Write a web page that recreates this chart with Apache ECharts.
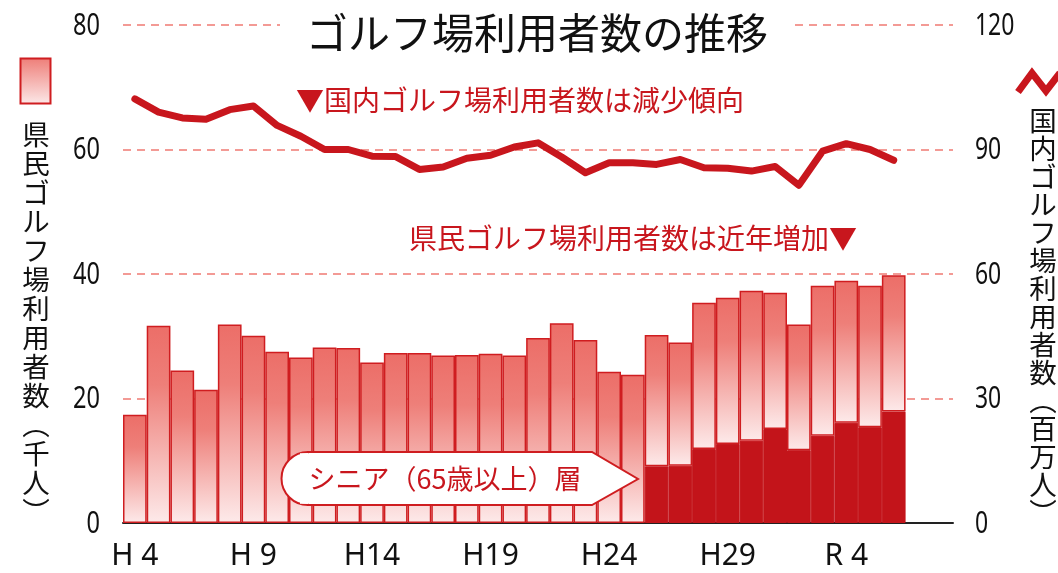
<!DOCTYPE html>
<html><head><meta charset="utf-8">
<script src="https://cdn.jsdelivr.net/npm/echarts@6/dist/echarts.min.js"></script>
<style>html,body{margin:0;padding:0;background:#fff}#c{width:1058px;height:573px}</style>
</head><body><div id="c"></div>
<script>
// Year categories (Heisei / Reiwa)
const categories = ['H 4','H 5','H 6','H 7','H 8','H 9','H10','H11','H12','H13','H14','H15','H16','H17','H18','H19','H20','H21','H22','H23','H24','H25','H26','H27','H28','H29','H30','R 1','R 2','R 3','R 4','R 5','R 6','R 7','R 8'];
// Prefectural golf course users (thousand persons), total
const prefTotal = [17.4,31.7,24.5,21.4,31.9,30.1,27.5,26.6,28.2,28.1,25.8,27.3,27.3,26.9,27.0,27.2,26.9,29.7,32.1,29.4,24.3,23.8,30.2,29.0,35.4,36.2,37.3,37.0,31.9,38.1,38.9,38.1,39.8];
// of which seniors (65+), thousand persons
const prefSenior = [null,null,null,null,null,null,null,null,null,null,null,null,null,null,null,null,null,null,null,null,null,null,9.1,9.2,11.9,12.7,13.2,15.1,11.7,14.0,16.1,15.4,17.9];
// National golf course users (million persons)
const nationalUsers = [102.2,99.0,97.6,97.3,99.6,100.5,95.8,93.2,90.0,90.0,88.4,88.3,85.2,85.8,87.9,88.6,90.6,91.6,88.2,84.4,86.8,86.8,86.4,87.6,85.6,85.5,84.8,85.9,81.4,89.6,91.4,90.0,87.4];
// Axis tick labels
const leftTicks = [0, 20, 40, 60, 80];
const rightTicks = [0, 30, 60, 90, 120];

const RED = '#c8161d';
const CJK = "'Noto Sans CJK JP', sans-serif";
const NUM = "'Noto Sans', 'Noto Sans CJK JP', sans-serif";
const restValues = prefTotal.map((t, i) => +(t - (prefSenior[i] || 0)).toFixed(2));
const grad = (stops) => ({type: 'linear', x: 0, y: 0, x2: 0, y2: 1, colorStops: stops});

const baseGraphics = [
  {type: 'text', x: 296, y: 100, z: 50, style: {text: '▼国内ゴルフ場利用者数は減少傾向', font: '28px ' + CJK, fill: RED, verticalAlign: 'middle'}},
  {type: 'text', x: 409, y: 238, z: 50, style: {text: '県民ゴルフ場利用者数は近年増加▼', font: '28px ' + CJK, fill: RED, verticalAlign: 'middle'}},
  {type: 'rect', z: 50, shape: {x: 20.5, y: 58.5, width: 30, height: 45},
    style: {fill: grad([{offset: 0, color: '#ee7d77'}, {offset: 1, color: '#fce9e9'}]), stroke: '#cf1d20', lineWidth: 2}},
  {type: 'text', z: 50, x: 36, y: 120, style: {text: '県民ゴルフ場利用者数︵千人︶'.split('').join('\n'), font: '27.5px ' + CJK, lineHeight: 29, fill: '#111', align: 'center', verticalAlign: 'top'}},
  {type: 'polyline', z: 50, shape: {points: [[1018, 92], [1032, 73], [1046, 91], [1060, 73]]}, style: {stroke: RED, lineWidth: 7, fill: null}},
  {type: 'text', z: 50, x: 1043, y: 107, style: {text: '国内ゴルフ場利用者数︵百万人︶'.split('').join('\n'), font: '27.5px ' + CJK, lineHeight: 28, fill: '#111', align: 'center', verticalAlign: 'top'}},
  {type: 'polygon', z: 60, shape: {points: [[308,452],[592,452],[638,479],[592,505],[308,505]]},
    style: {fill: '#fff', stroke: '#cf1d20', lineWidth: 2}},
  {type: 'arc', z: 60, shape: {cx: 308, cy: 478.5, r: 26.5, startAngle: Math.PI / 2, endAngle: Math.PI * 1.5, clockwise: true},
    style: {fill: '#fff', stroke: '#cf1d20', lineWidth: 2}},
  {type: 'rect', z: 61, shape: {x: 300, y: 453.2, width: 14, height: 50.6}, style: {fill: '#fff'}},
  {type: 'text', z: 62, x: 445, y: 479, style: {text: 'シニア（65歳以上）層', font: '27px ' + CJK, fill: RED, align: 'center', verticalAlign: 'middle'}}
];

const chart = echarts.init(document.getElementById('c'), null, {renderer: 'canvas'});
chart.setOption({
  animation: false,
  backgroundColor: '#fff',
  title: {
    text: 'ゴルフ場利用者数の推移',
    left: 280, top: 10,
    padding: [0, 26],
    backgroundColor: '#fff',
    textStyle: {fontFamily: CJK, fontSize: 42, fontWeight: 'normal', color: '#111', lineHeight: 46}
  },
  grid: {left: 123, right: 105, top: 25, bottom: 50, containLabel: false},
  xAxis: {
    type: 'category', data: categories, boundaryGap: true,
    axisLine: {show: true, lineStyle: {color: '#222', width: 2}},
    axisTick: {show: false},
    axisLabel: {interval: 4, margin: 18, fontFamily: NUM, fontSize: 30, color: '#111'}
  },
  yAxis: [{
    type: 'value', min: 0, max: 80, interval: 20, position: 'left',
    axisLine: {show: false}, axisTick: {show: false},
    axisLabel: {show: false},
    splitLine: {show: true, lineStyle: {color: '#f39a95', width: 2, type: [8, 6]}}
  }, {
    type: 'value', min: 0, max: 120, interval: 30, position: 'right',
    axisLine: {show: false}, axisTick: {show: false},
    axisLabel: {show: false},
    splitLine: {show: false}
  }],
  series: [{
    name: 'シニア', type: 'bar', stack: 'pref', data: prefSenior,
    barCategoryGap: '0%', barGap: '0%',
    itemStyle: {color: '#c3141a', borderColor: '#c3141a', borderWidth: 1},
    z: 2
  }, {
    name: '県民ゴルフ場利用者数', type: 'bar', stack: 'pref', data: restValues,
    barCategoryGap: '0%', barGap: '0%',
    itemStyle: {color: grad([{offset: 0, color: '#ec6e68'}, {offset: 0.3, color: '#ee7f79'}, {offset: 1, color: '#fdeaea'}]), borderColor: '#cf1d20', borderWidth: 1.5},
    z: 2
  }, {
    name: '国内ゴルフ場利用者数', type: 'line', yAxisIndex: 1, data: nationalUsers,
    symbol: 'none', smooth: false,
    lineStyle: {color: RED, width: 7, cap: 'round', join: 'round'},
    z: 5
  }],
  graphic: baseGraphics
});

// Condensed tick labels positioned through the axes' own scales
const tickGraphics = [];
leftTicks.forEach(v => {
  const py = chart.convertToPixel({yAxisIndex: 0}, v);
  tickGraphics.push({type: 'text', z: 40, x: 100, y: py + 1, scaleX: 0.76,
    style: {text: String(v), font: '31px ' + NUM, fill: '#111', align: 'right', verticalAlign: 'middle'}});
});
rightTicks.forEach(v => {
  const py = chart.convertToPixel({yAxisIndex: 1}, v);
  tickGraphics.push({type: 'text', z: 40, x: 975, y: py + 1, scaleX: 0.74,
    style: {text: String(v), font: '31px ' + NUM, fill: '#111', align: 'left', verticalAlign: 'middle'}});
});
chart.setOption({graphic: baseGraphics.concat(tickGraphics)});
</script>
</body></html>
